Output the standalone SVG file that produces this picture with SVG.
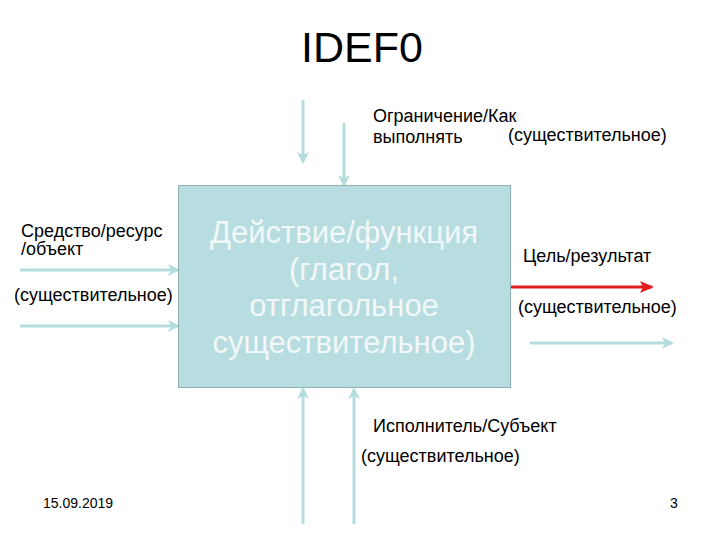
<svg xmlns="http://www.w3.org/2000/svg" width="720" height="540" viewBox="0 0 720 540">
<style>
text{font-family:"Liberation Sans",Arial,sans-serif;fill:#000}
.lbl{font-size:18px}
.box{font-size:31px;fill:#f2f8f8;text-anchor:middle}
.a{stroke:#b5dcdf;stroke-width:3;fill:none;marker-end:url(#ha)}
.r{stroke:#e31e1e;stroke-width:3;fill:none;marker-end:url(#hr)}
</style>
<defs>
<marker id="ha" markerWidth="12" markerHeight="12" refX="10" refY="6" orient="auto" markerUnits="userSpaceOnUse" viewBox="0 0 12 12"><path d="M0,0 L12,6 L0,12 L3,6 Z" fill="#b5dcdf"/></marker>
<marker id="hr" markerWidth="14" markerHeight="12" refX="12" refY="6" orient="auto" markerUnits="userSpaceOnUse" viewBox="0 0 14 12"><path d="M0,0 L14,6 L0,12 L3,6 Z" fill="#e31e1e"/></marker>
</defs>
<rect width="720" height="540" fill="#fff"/>
<text x="362" y="62" font-size="43" text-anchor="middle">IDEF0</text>
<g id="connectors">
<path class="a" d="M303,100 V162"/>
<path class="a" d="M344,123 V185"/>
<path class="a" d="M20,270 H178"/>
<path class="a" d="M20,326 H178"/>
<path class="r" d="M510,287 H652"/>
<path class="a" d="M530,343 H672"/>
<path class="a" d="M303,524 V389"/>
<path class="a" d="M354,524 V389"/>
</g>
<g id="function">
<rect x="178.5" y="185.5" width="332" height="202" fill="#b7dde0" stroke="#8fb0b3" stroke-width="1"/>
<text class="box" x="344" y="243">Действие/функция</text>
<text class="box" x="344" y="280">(глагол,</text>
<text class="box" x="344" y="316">отглагольное</text>
<text class="box" x="344" y="353">существительное)</text>
</g>
<g id="control">
<text class="lbl" x="373" y="122">Ограничение/Как</text>
<text class="lbl" x="373" y="143">выполнять</text>
<text class="lbl" x="508" y="141">(существительное)</text>
</g>
<g id="input">
<text class="lbl" x="21" y="237">Средство/ресурс</text>
<text class="lbl" x="21" y="255">/объект</text>
<text class="lbl" x="14" y="301">(существительное)</text>
</g>
<g id="output">
<text class="lbl" x="523" y="262">Цель/результат</text>
<text class="lbl" x="518" y="313">(существительное)</text>
</g>
<g id="mechanism">
<text class="lbl" x="373" y="432">Исполнитель/Субъект</text>
<text class="lbl" x="361" y="462">(существительное)</text>
</g>
<text x="43" y="508" font-size="14">15.09.2019</text>
<text x="670" y="508" font-size="14">3</text>
</svg>
